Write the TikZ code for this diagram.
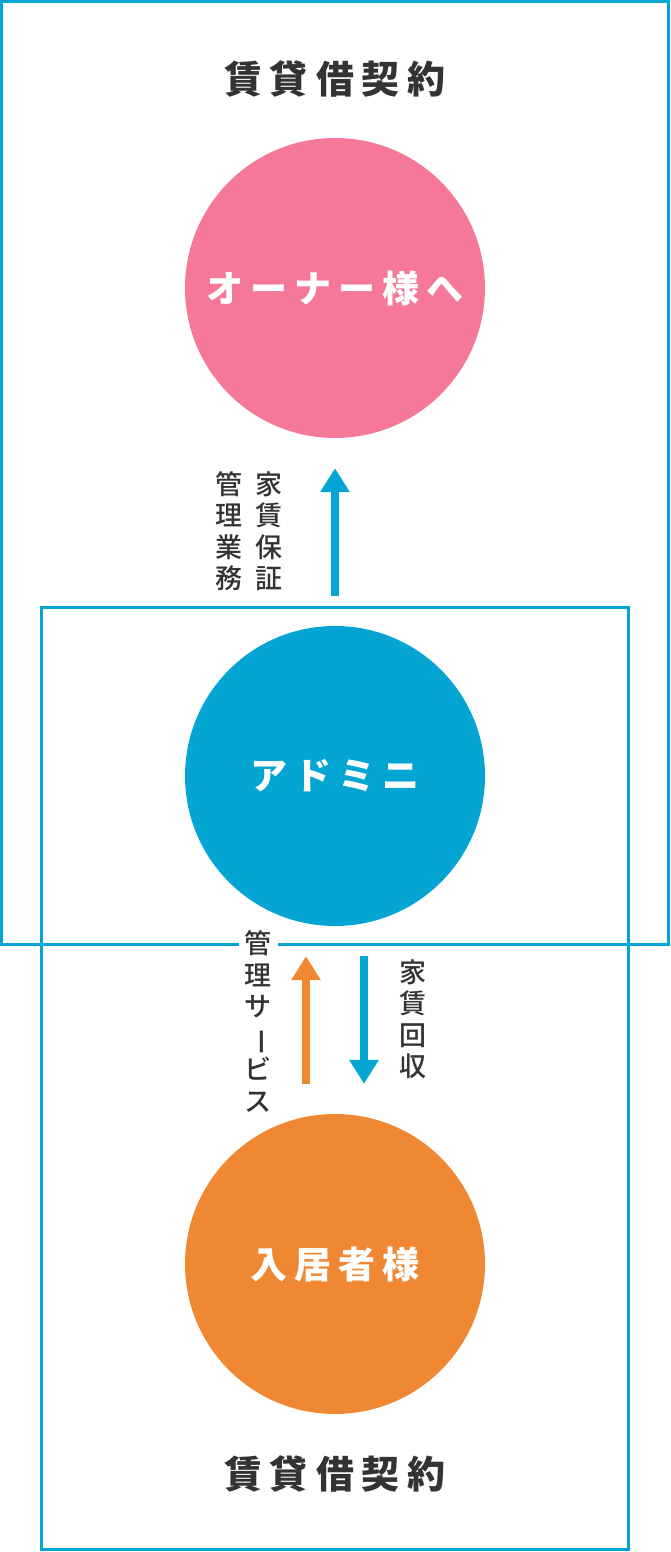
\documentclass[tikz,border=0pt]{standalone}
\usepackage{fontspec}
\usepackage{xcolor}
\usetikzlibrary{arrows.meta}

\newfontfamily\jp{Noto Sans CJK JP}
\newfontfamily\jpmed{Noto Sans CJK JP Medium}
\definecolor{ownerpink}{HTML}{F57899}
\definecolor{adminblue}{HTML}{04A4D3}
\definecolor{tenantorange}{HTML}{F08833}
\definecolor{textgray}{HTML}{333333}

\tikzset{
  ball/.style={circle, inner sep=0pt, minimum size=300pt, text=white,
    font={\jp\bfseries\fontsize{37}{37}\selectfont\addfontfeature{LetterSpace=19}}},
  title/.style={text=textgray,
    font={\jp\bfseries\fontsize{38}{38}\selectfont\addfontfeature{LetterSpace=21}}},
  vlabel/.style={text=textgray, align=center, inner sep=0pt,
    font={\jpmed\fontsize{27}{31.5}\selectfont}},
  frame/.style={draw=adminblue, line width=3pt},
  fat/.style={line width=8pt, -{Triangle[length=24pt, width=28pt]},
    shorten <=30pt, shorten >=30pt},
}

\begin{document}
\begin{tikzpicture}[x=1pt, y=1pt, node distance=488pt]
                        \useasboundingbox (0,0) rectangle (670,1552);

                        \draw[frame] (1.5,607.5) rectangle (668.5,1550.5);
                        \draw[frame] (41.5,2.5) rectangle (628.5,944.5);

                        \node [ball, fill=ownerpink](1) at (335,1264){オーナー様へ};
                        \node [ball, fill=adminblue](2) [below of = 1]{アドミニ};
                        \node [ball, fill=tenantorange](3) [below of = 2]{入居者様};

                        \node [title](4) [above of = 1, node distance=209.5pt]{賃貸借契約};
                        \node [title](5) [below of = 3, node distance=209.5pt]{賃貸借契約};

                        \node [vlabel](6) at (229,1020.75){管\\理\\業\\務};
                        \node [vlabel](7) at (269,1020.75){家\\賃\\保\\証};
                        \node [vlabel, fill=white, inner xsep=6pt](8) at (258,530.5)
                            {管\\理\\サ\\\rotatebox[origin=c]{-90}{ー}\\ビ\\ス};
                        \node [vlabel](9) at (413,533){家\\賃\\回\\収};

                        \coordinate (10) at ([xshift=-29pt]3.north);
                        \coordinate (11) at ([xshift=-29pt]2.south);
                        \coordinate (12) at ([xshift=29pt]2.south);
                        \coordinate (13) at ([xshift=29pt]3.north);

                        \path
                            (2) edge[fat, draw=adminblue] (1)
                            (10) edge[fat, draw=tenantorange] (11)
                            (12) edge[fat, draw=adminblue] (13)
                        ;
                    \end{tikzpicture}
\end{document}
